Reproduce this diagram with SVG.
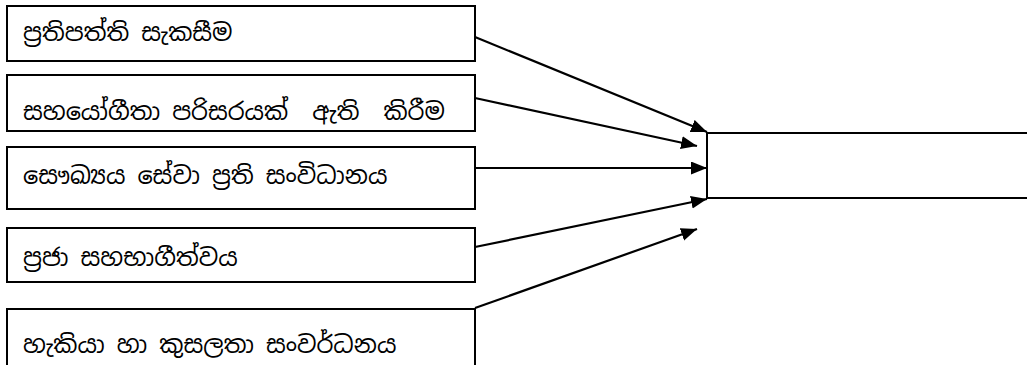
<svg xmlns="http://www.w3.org/2000/svg" width="1027" height="365" viewBox="0 0 1027 365">
<style>
.box{fill:#fff;stroke:#000;stroke-width:2}
.lbl{font-family:"Noto Sans Sinhala","Iskoola Pota","Noto Sans",sans-serif;font-size:24px;fill:#000;white-space:pre}
.conn line{stroke:#000;stroke-width:2.2;marker-end:url(#ah)}
</style>
<defs>
<marker id="ah" markerUnits="userSpaceOnUse" markerWidth="18" markerHeight="14" refX="16" refY="6.5" orient="auto">
<path d="M0,0 L16,6.5 L0,13 z" fill="#000"/>
</marker>
</defs>
<rect width="1027" height="365" fill="#fff"/>
<g id="n1"><rect class="box" x="7" y="6" width="468" height="55"/><text class="lbl" x="23" y="41">ප්‍රතිපත්ති සැකසීම</text></g>
<g id="n2"><rect class="box" x="7" y="75" width="468" height="56"/><text class="lbl" x="23" y="120">සහයෝගීතා පරිසරයක්  ඇති  කිරීම</text></g>
<g id="n3"><rect class="box" x="7" y="147" width="468" height="62"/><text class="lbl" x="23" y="184">සෞඛ්‍යය සේවා ප්‍රති සංවිධානය</text></g>
<g id="n4"><rect class="box" x="7" y="228" width="468" height="54"/><text class="lbl" x="23" y="266">ප්‍රජා සහභාගීත්වය</text></g>
<g id="n5"><rect class="box" x="7" y="309" width="468" height="70"/><text class="lbl" x="23" y="353">හැකියා හා කුසලතා සංවර්ධනය</text></g>
<g id="n6"><rect class="box" x="707" y="133" width="340" height="65"/></g>
<g class="conn" id="connectors">
<line x1="475" y1="37" x2="707" y2="132"/>
<line x1="475" y1="98" x2="697" y2="146"/>
<line x1="475" y1="168" x2="707" y2="168"/>
<line x1="475" y1="247" x2="707" y2="199"/>
<line x1="475" y1="308" x2="697" y2="229"/>
</g>
</svg>
